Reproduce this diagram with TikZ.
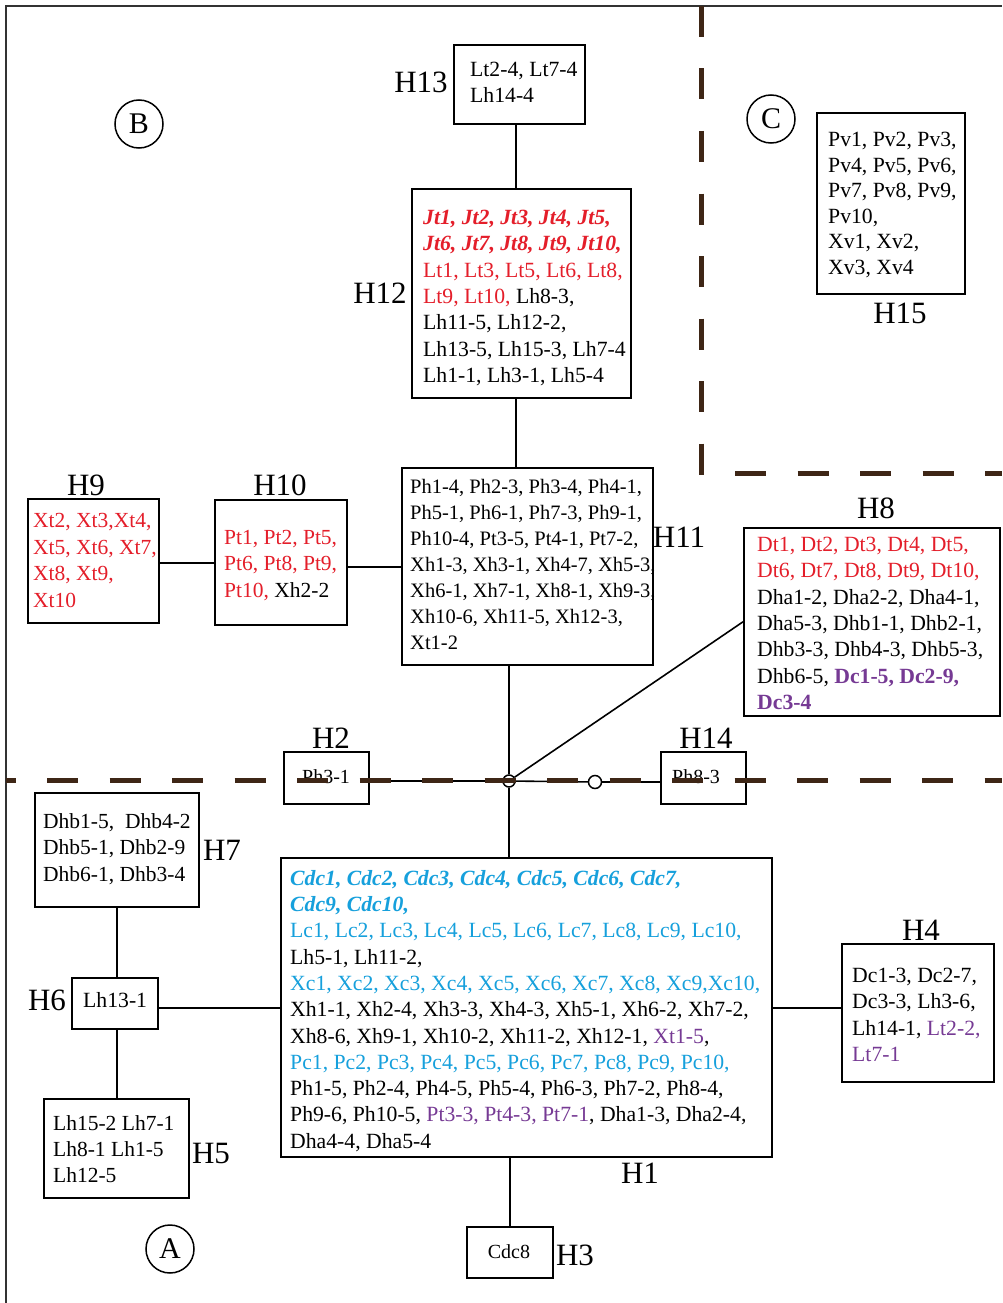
\documentclass[tikz,border=0pt]{standalone}
\usepackage{fontspec}
\setmainfont{Liberation Serif}
\definecolor{tred}{RGB}{228,30,42}
\definecolor{tblue}{RGB}{22,160,220}
\definecolor{tpur}{RGB}{118,58,148}
\definecolor{dbrown}{RGB}{62,38,22}
\definecolor{frm}{RGB}{50,50,50}
\newcommand\cred[1]{{\color{tred}#1}}
\newcommand\cblu[1]{{\color{tblue}#1}}
\newcommand\cpur[1]{{\color{tpur}#1}}
\newcommand\bi[1]{{\bfseries\itshape #1}}
\begin{document}
\begin{tikzpicture}[x=1pt,y=-1pt,
  box/.style={draw, line width=1.6pt, inner sep=0pt, anchor=north west},
  txt/.style={inner sep=0pt, anchor=north west, align=left, font=\fontsize{21.7}{26.3}\selectfont},
  txtb/.style={txt, font=\fontsize{20.5}{26}\selectfont},
  txts/.style={inner sep=0pt, font=\fontsize{20}{24}\selectfont},
  lab/.style={inner sep=0pt, anchor=base, font=\fontsize{31}{31}\selectfont},
  circ/.style={draw, circle, line width=1.5pt, minimum size=48pt, inner sep=0pt, font=\fontsize{30}{30}\selectfont},
  dot/.style={draw, circle, line width=1.5pt, fill=white, inner sep=0pt},
  conn/.style={line width=1.6pt},
  dsh/.style={draw=dbrown, line width=5pt, dash pattern=on 31pt off 31.5pt}
]
\useasboundingbox (0,0) rectangle (1002,1303);
\fill[white] (0,0) rectangle (1002,1303);

% frame
\draw[frm, line width=2.5pt] (6,1303) -- (6,6) -- (1002,6);

% boxes
\node[box, minimum width=131pt, minimum height=79pt]  (h13) at (453,44) {};
\node[box, minimum width=219pt, minimum height=209pt] (h12) at (411,188) {};
\node[box, minimum width=251pt, minimum height=197pt] (h11) at (401,467) {};
\node[box, minimum width=132pt, minimum height=125pt] (h10) at (214,499) {};
\node[box, minimum width=131pt, minimum height=124pt] (h9)  at (27,498) {};
\node[box, minimum width=256pt, minimum height=188pt] (h8)  at (743,527) {};
\node[box, minimum width=148pt, minimum height=181pt] (h15) at (816,112) {};
\node[box, minimum width=85pt,  minimum height=52pt]  (h2)  at (283,751) {};
\node[box, minimum width=85pt,  minimum height=52pt]  (h14) at (660,751) {};
\node[box, minimum width=164pt, minimum height=114pt] (h7)  at (34,792) {};
\node[box, minimum width=86pt,  minimum height=51pt]  (h6)  at (71,977) {};
\node[box, minimum width=145pt, minimum height=99pt]  (h5)  at (43,1098) {};
\node[box, minimum width=491pt, minimum height=299pt] (h1)  at (280,857) {};
\node[box, minimum width=152pt, minimum height=138pt] (h4)  at (841,943) {};
\node[box, minimum width=86pt,  minimum height=51pt]  (h3)  at (466,1226) {};

% junction circles
\node[dot, minimum size=12pt] (j) at (509,781) {};
\node[dot, minimum size=13pt] (s) at (595,782) {};

% helper coordinates
\coordinate (c1) at (516,0);
\coordinate (c2) at (117,0);
\coordinate (c3) at (0,1008);
\coordinate (c4) at (0,563);
\coordinate (c5) at (0,567);

% connectors
\draw[conn] (c1 |- h13.south) -- (c1 |- h12.north);
\draw[conn] (c1 |- h12.south) -- (c1 |- h11.north);
\draw[conn] (h9.east |- c4) -- (h10.west |- c4);
\draw[conn] (h10.east |- c5) -- (h11.west |- c5);
\draw[conn] (j |- h11.south) -- (j);
\draw[conn] (j) -- (h8.west);
\draw[conn] (h2.east |- j) -- (j);
\draw[conn] (j) -- (s);
\draw[conn] (s) -- (s -| h14.west);
\draw[conn] (j) -- (j |- h1.north);
\draw[conn] (h3.north |- h1.south) -- (h3.north);
\draw[conn] (h6.east |- c3) -- (h1.west |- c3);
\draw[conn] (h1.east |- c3) -- (h4.west |- c3);
\draw[conn] (c2 |- h7.south) -- (c2 |- h6.north);
\draw[conn] (c2 |- h6.south) -- (c2 |- h5.north);

% texts
\node[txt] (t13) at (470,62) {Lt2-4, Lt7-4\\Lh14-4};
\node[txt] (t12) at (423,210) {%
\cred{\bi{Jt1, Jt2, Jt3, Jt4, Jt5,}}\\
\cred{\bi{Jt6, Jt7, Jt8, Jt9, Jt10,}}\\
\cred{Lt1, Lt3, Lt5, Lt6, Lt8,}\\
\cred{Lt9, Lt10,} Lh8-3,\\
Lh11-5, Lh12-2,\\
Lh13-5, Lh15-3, Lh7-4\\
Lh1-1, Lh3-1, Lh5-4};
\node[txtb] (t11) at (410,479) {%
Ph1-4, Ph2-3, Ph3-4, Ph4-1,\\
Ph5-1, Ph6-1, Ph7-3, Ph9-1,\\
Ph10-4, Pt3-5, Pt4-1, Pt7-2,\\
Xh1-3, Xh3-1, Xh4-7, Xh5-3,\\
Xh6-1, Xh7-1, Xh8-1, Xh9-3,\\
Xh10-6, Xh11-5, Xh12-3,\\
Xt1-2};
\node[txt, font=\fontsize{21.5}{26.5}\selectfont] (t10) at (224,530) {%
\cred{Pt1, Pt2, Pt5,}\\
\cred{Pt6, Pt8, Pt9,}\\
\cred{Pt10,} Xh2-2};
\node[txt, font=\fontsize{21.5}{26.6}\selectfont] (t9) at (33,513) {%
\cred{Xt2, Xt3,Xt4,}\\
\cred{Xt5, Xt6, Xt7,}\\
\cred{Xt8, Xt9,}\\
\cred{Xt10}};
\node[txt] (t8) at (757,537) {%
\cred{Dt1, Dt2, Dt3, Dt4, Dt5,}\\
\cred{Dt6, Dt7, Dt8, Dt9, Dt10,}\\
Dha1-2, Dha2-2, Dha4-1,\\
Dha5-3, Dhb1-1, Dhb2-1,\\
Dhb3-3, Dhb4-3, Dhb5-3,\\
Dhb6-5, \cpur{\bfseries Dc1-5, Dc2-9,}\\
\cpur{\bfseries Dc3-4}};
\node[txt, font=\fontsize{21.7}{25.5}\selectfont] (t15) at (828,132) {%
Pv1, Pv2, Pv3,\\
Pv4, Pv5, Pv6,\\
Pv7, Pv8, Pv9,\\
Pv10,\\
Xv1, Xv2,\\
Xv3, Xv4};
\node[txts, anchor=base west] (t2) at (302,783) {Ph3-1};
\node[txts, anchor=base west] (t14) at (672,783) {Ph8-3};
\node[txt, font=\fontsize{21.5}{26.7}\selectfont] (t7) at (43,813) {%
Dhb1-5,\ \ Dhb4-2\\
Dhb5-1, Dhb2-9\\
Dhb6-1, Dhb3-4};
\node[txt] (t6) at (83,992) {Lh13-1};
\node[txt, font=\fontsize{21.5}{26}\selectfont] (t5) at (53,1115) {%
Lh15-2 Lh7-1\\
Lh8-1 Lh1-5\\
Lh12-5};
\node[txt] (t1) at (290,870) {%
\cblu{\bi{Cdc1, Cdc2, Cdc3, Cdc4, Cdc5, Cdc6, Cdc7,}}\\
\cblu{\bi{Cdc9, Cdc10,}}\\
\cblu{Lc1, Lc2, Lc3, Lc4, Lc5, Lc6, Lc7, Lc8, Lc9, Lc10,}\\
Lh5-1, Lh11-2,\\
\cblu{Xc1, Xc2, Xc3, Xc4, Xc5, Xc6, Xc7, Xc8, Xc9,Xc10,}\\
Xh1-1, Xh2-4, Xh3-3, Xh4-3, Xh5-1, Xh6-2, Xh7-2,\\
Xh8-6, Xh9-1, Xh10-2, Xh11-2, Xh12-1, \cpur{Xt1-5},\\
\cblu{Pc1, Pc2, Pc3, Pc4, Pc5, Pc6, Pc7, Pc8, Pc9, Pc10,}\\
Ph1-5, Ph2-4, Ph4-5, Ph5-4, Ph6-3, Ph7-2, Ph8-4,\\
Ph9-6, Ph10-5, \cpur{Pt3-3, Pt4-3, Pt7-1}, Dha1-3, Dha2-4,\\
Dha4-4, Dha5-4};
\node[txt] (t4) at (852,968) {%
Dc1-3, Dc2-7,\\
Dc3-3, Lh3-6,\\
Lh14-1, \cpur{Lt2-2,}\\
\cpur{Lt7-1}};
\node[txts, anchor=base] (t3) at (509,1258) {Cdc8};

% labels
\node[lab] (l13) at (421,93) {H13};
\node[lab] (l12) at (380,303) {H12};
\node[lab] (l11) at (679,547) {H11};
\node[lab] (l10) at (280,495) {H10};
\node[lab] (l9)  at (86,495) {H9};
\node[lab] (l8)  at (876,518) {H8};
\node[lab] (l15) at (900,323) {H15};
\node[lab] (l2)  at (331,748) {H2};
\node[lab] (l14) at (706,748) {H14};
\node[lab] (l7)  at (222,860) {H7};
\node[lab] (l6)  at (47,1010) {H6};
\node[lab] (l5)  at (211,1163) {H5};
\node[lab] (l1)  at (640,1183) {H1};
\node[lab] (l4)  at (921,940) {H4};
\node[lab] (l3)  at (575,1265) {H3};

% region circles
\node[circ] (cb) at (139,124) {B};
\node[circ] (cc) at (771,119) {C};
\node[circ] (ca) at (170,1249) {A};

% dashed region borders
\draw[dsh, dash phase=21.5pt] (6,780) -- (1002,780);
\draw[dsh] (701,6) -- (701,475);
\draw[dsh] (735,473) -- (1002,473);
\end{tikzpicture}
\end{document}
